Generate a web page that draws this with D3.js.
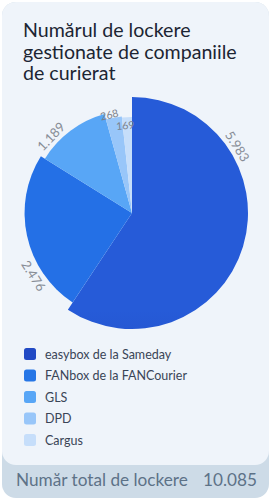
<!DOCTYPE html>
<html lang="ro">

<head>
  <meta charset="UTF-8">
  <title>Lockere</title>
  <style>
    body {
      margin: 0;
      background: #ffffff;
      font-family: Lato, "Open Sans", sans-serif;
    }
  </style>
</head>

<body>
  <div id="chart"></div>

  <script src="https://cdnjs.cloudflare.com/ajax/libs/d3/7.8.5/d3.min.js"></script>
  <script>
    const companies = ['easybox de la Sameday', 'FANbox de la FANCourier', 'GLS', 'DPD', 'Cargus']
    const lockers = [5983, 2476, 1189, 268, 169]
    const valueLabels = ['5.983', '2.476', '1.189', '268', '169']
    const totalLabel = '10.085'
    const colors = ['#2149c4', '#2676e6', '#58a6f6', '#98c6f9', '#c6defa']

    const W = 271
    const H = 500

    const svg = d3.select('#chart')
      .append('svg')
      .attr('width', W)
      .attr('height', H)

    const defs = svg.append('defs')

    // gradient for the big slice, lighter at the top
    const g0 = defs.append('linearGradient')
      .attr('id', 'grad0')
      .attr('gradientUnits', 'userSpaceOnUse')
      .attr('x1', 0).attr('y1', 97).attr('x2', 0).attr('y2', 330)
    g0.append('stop').attr('offset', 0).attr('stop-color', '#265bd8')
    g0.append('stop').attr('offset', 1).attr('stop-color', '#1c359f')

    const g1 = defs.append('linearGradient')
      .attr('id', 'grad1')
      .attr('gradientUnits', 'userSpaceOnUse')
      .attr('x1', 0).attr('y1', 150).attr('x2', 0).attr('y2', 310)
    g1.append('stop').attr('offset', 0).attr('stop-color', '#2470e6')
    g1.append('stop').attr('offset', 1).attr('stop-color', '#2176ea')

    // card + footer
    svg.append('rect')
      .attr('x', 2).attr('y', 2)
      .attr('width', W - 4).attr('height', H - 4)
      .attr('rx', 14)
      .attr('fill', '#cddbe7')

    svg.append('rect')
      .attr('x', 2).attr('y', 2)
      .attr('width', W - 4).attr('height', 463)
      .attr('rx', 14)
      .attr('fill', '#eff4fa')

    // title
    const title = ['Numărul de lockere', 'gestionate de companiile', 'de curierat']
    svg.append('text')
      .attr('x', 23)
      .attr('y', 37)
      .attr('font-size', 19.6)
      .attr('fill', '#1c2533')
      .selectAll('tspan')
      .data(title)
      .join('tspan')
      .attr('x', 23)
      .attr('dy', (d, i) => i === 0 ? 0 : 21.5)
      .text(d => d)

    // pie
    const cx = 132
    const cy = 213

    const pie = d3.pie().sort(null).value(d => d)
    const arcsData = pie(lockers)

    const rScale = d3.scaleSqrt()
      .domain([d3.min(lockers), d3.max(lockers)])
      .range([96, 116])

    const arc = d3.arc()
      .innerRadius(0)
      .outerRadius(d => rScale(d.data))

    const pieG = svg.append('g')
      .attr('transform', `translate(${cx},${cy})`)

    pieG.selectAll('path')
      .data(arcsData)
      .join('path')
      .attr('d', arc)
      .attr('fill', (d, i) => i === 0 ? 'url(#grad0)' : i === 1 ? 'url(#grad1)' : colors[i])

    // value labels, written along the tangent of each slice
    pieG.selectAll('text')
      .data(arcsData)
      .join('text')
      .attr('transform', d => {
        const span = d.endAngle - d.startAngle
        const a = d.startAngle + span * 0.27
        let off = 9
        if (span < 0.12) off = -8
        else if (span < 0.35) off = 4
        const r = rScale(d.data) + off
        const x = Math.sin(a) * r
        const y = -Math.cos(a) * r
        let rot = a * 180 / Math.PI
        if (rot > 90 && rot < 270) rot -= 180
        return `translate(${x},${y}) rotate(${rot})`
      })
      .attr('text-anchor', 'middle')
      .attr('dominant-baseline', 'central')
      .attr('font-size', d => (d.endAngle - d.startAngle) < 0.35 ? 10.5 : 13)
      .attr('fill', d => (d.endAngle - d.startAngle) < 0.35 ? '#7a8089' : '#878d96')
      .text((d, i) => valueLabels[i])

    // legend
    const legend = svg.append('g')
      .selectAll('g')
      .data(companies)
      .join('g')
      .attr('transform', (d, i) => `translate(24,${354 + i * 21.5})`)

    legend.append('rect')
      .attr('x', 0).attr('y', -6)
      .attr('width', 12).attr('height', 12)
      .attr('rx', 2.5)
      .attr('fill', (d, i) => colors[i])

    legend.append('text')
      .attr('x', 21)
      .attr('dominant-baseline', 'central')
      .attr('font-size', 12.5)
      .attr('fill', '#3a4557')
      .text(d => d)

    // footer
    svg.append('text')
      .attr('x', 16).attr('y', 486)
      .attr('font-size', 17.2)
      .attr('fill', '#5d7287')
      .text('Număr total de lockere')

    svg.append('text')
      .attr('x', 257).attr('y', 486)
      .attr('text-anchor', 'end')
      .attr('font-size', 17.2)
      .attr('fill', '#5d7287')
      .text(totalLabel)
  </script>
</body>

</html>
